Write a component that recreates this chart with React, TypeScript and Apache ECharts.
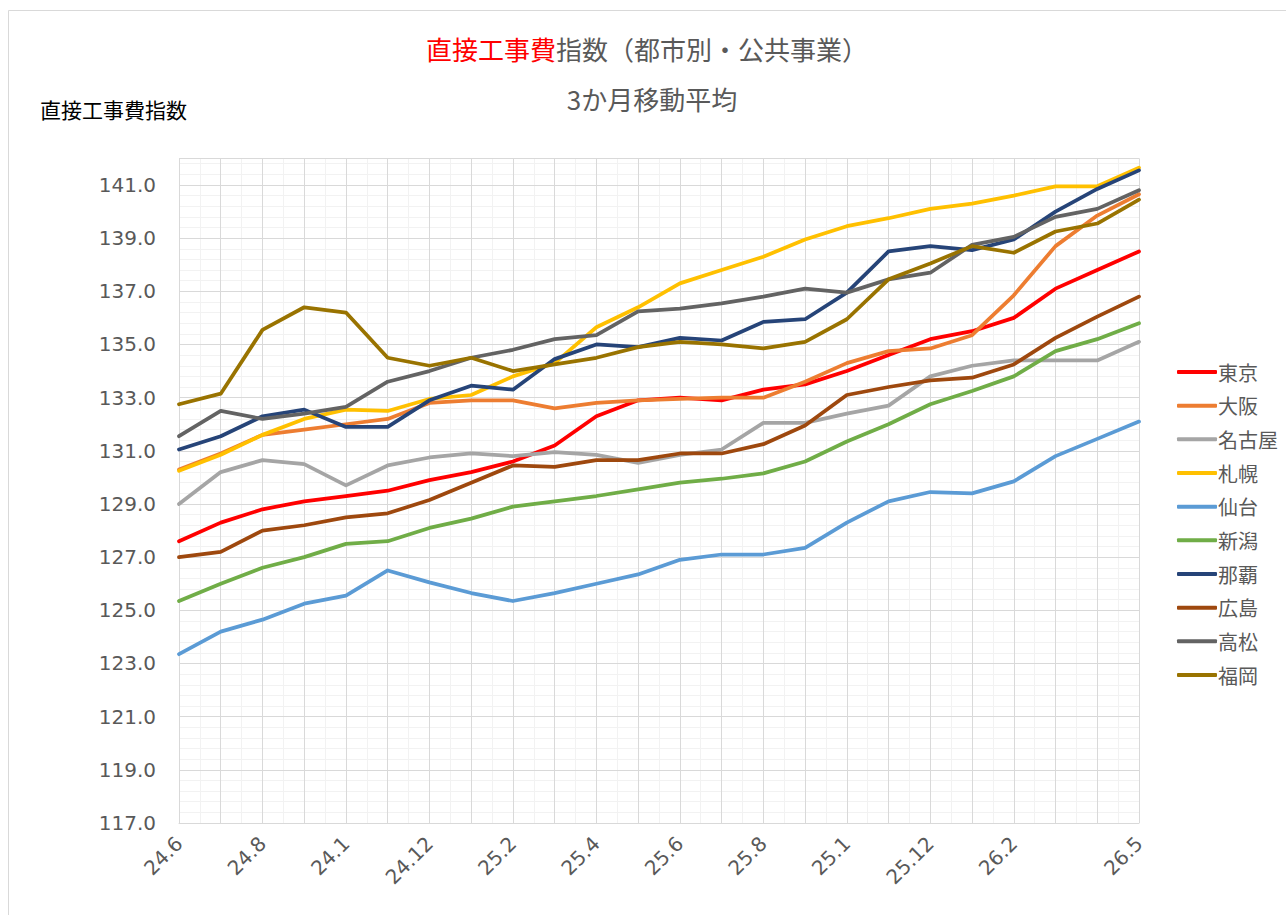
import React, { useEffect, useRef } from "react";
import * as echarts from "echarts";

const categories = [
  "24.6", "24.7", "24.8", "24.9", "24.1", "24.11", "24.12", "25.1",
  "25.2", "25.3", "25.4", "25.5", "25.6", "25.7", "25.8", "25.9",
  "25.1", "25.11", "25.12", "26.1", "26.2", "26.3", "26.4", "26.5",
];

const cityNames = ["東京", "大阪", "名古屋", "札幌", "仙台", "新潟", "那覇", "広島", "高松", "福岡"];
const cityColors = ["#FF0000", "#ED7D31", "#A5A5A5", "#FFC000", "#5B9BD5", "#70AD47", "#264478", "#9E480E", "#636363", "#997300"];

const tokyo = [127.6, 128.3, 128.8, 129.1, 129.3, 129.5, 129.9, 130.2, 130.6, 131.2, 132.3, 132.9, 133.0, 132.9, 133.3, 133.5, 134.0, 134.6, 135.2, 135.5, 136.0, 137.1, 137.8, 138.5];
const osaka = [130.3, 130.9, 131.6, 131.8, 132.0, 132.2, 132.8, 132.9, 132.9, 132.6, 132.8, 132.9, 132.95, 133.0, 133.0, 133.6, 134.3, 134.75, 134.85, 135.35, 136.85, 138.7, 139.85, 140.65];
const nagoya = [129.0, 130.2, 130.65, 130.5, 129.7, 130.45, 130.75, 130.9, 130.8, 130.95, 130.85, 130.55, 130.85, 131.05, 132.05, 132.05, 132.4, 132.7, 133.8, 134.2, 134.4, 134.4, 134.4, 135.1];
const sapporo = [130.25, 130.85, 131.6, 132.2, 132.55, 132.5, 132.95, 133.1, 133.8, 134.3, 135.65, 136.4, 137.3, 137.8, 138.3, 138.95, 139.45, 139.75, 140.1, 140.3, 140.6, 140.95, 140.95, 141.65];
const sendai = [123.35, 124.2, 124.65, 125.25, 125.55, 126.5, 126.05, 125.65, 125.35, 125.65, 126.0, 126.35, 126.9, 127.1, 127.1, 127.35, 128.3, 129.1, 129.45, 129.4, 129.85, 130.8, 131.45, 132.1];
const niigata = [125.35, 126.0, 126.6, 127.0, 127.5, 127.6, 128.1, 128.45, 128.9, 129.1, 129.3, 129.55, 129.8, 129.95, 130.15, 130.6, 131.35, 132.0, 132.75, 133.25, 133.8, 134.75, 135.2, 135.8];
const naha = [131.05, 131.55, 132.3, 132.55, 131.9, 131.9, 132.9, 133.45, 133.3, 134.45, 135.0, 134.9, 135.25, 135.15, 135.85, 135.95, 136.95, 138.5, 138.7, 138.55, 138.95, 140.0, 140.85, 141.55];
const hiroshima = [127.0, 127.2, 128.0, 128.2, 128.5, 128.65, 129.15, 129.8, 130.45, 130.4, 130.65, 130.65, 130.9, 130.9, 131.25, 131.95, 133.1, 133.4, 133.65, 133.75, 134.25, 135.25, 136.05, 136.8];
const takamatsu = [131.55, 132.5, 132.2, 132.4, 132.65, 133.6, 134.0, 134.5, 134.8, 135.2, 135.35, 136.25, 136.35, 136.55, 136.8, 137.1, 136.95, 137.45, 137.7, 138.75, 139.05, 139.8, 140.1, 140.8];
const fukuoka = [132.75, 133.15, 135.55, 136.4, 136.2, 134.5, 134.2, 134.5, 134.0, 134.25, 134.5, 134.9, 135.1, 135.0, 134.85, 135.1, 135.95, 137.45, 138.05, 138.7, 138.45, 139.25, 139.55, 140.45];

const cityValues = [tokyo, osaka, nagoya, sapporo, sendai, niigata, naha, hiroshima, takamatsu, fukuoka];

const titleMain = "直接工事費";
const titleRest = "指数（都市別・公共事業）";
const subTitle = "3か月移動平均";
const yAxisTitle = "直接工事費指数";

const Y_MIN = 117;
const Y_MAX = 142;

const CJK = "'Noto Sans CJK JP', 'Noto Sans', sans-serif";
const NUM = "'DejaVu Sans', Verdana, sans-serif";

export default function App() {
  const ref = useRef<HTMLDivElement>(null);

  useEffect(() => {
    if (!ref.current) return;
    const chart = echarts.init(ref.current, undefined, { renderer: "svg" });
    const lastIdx = categories.length - 1;

    const option: any = {
      animation: false,
      backgroundColor: "#FFFFFF",
      grid: { left: 179, right: 147, top: 158.4, bottom: 92, containLabel: false },
      graphic: [
        { type: "line", shape: { x1: 8.5, y1: 10.5, x2: 1286, y2: 10.5 }, style: { stroke: "#D9D9D9", lineWidth: 1 } },
        { type: "line", shape: { x1: 8.5, y1: 10.5, x2: 8.5, y2: 915 }, style: { stroke: "#D9D9D9", lineWidth: 1 } },
        {
          type: "text",
          x: 647,
          y: 48,
          style: {
            text: `{r|${titleMain}}{g|${titleRest}}`,
            align: "center",
            verticalAlign: "middle",
            rich: {
              r: { fill: "#FF0000", fontSize: 26, fontFamily: CJK },
              g: { fill: "#595959", fontSize: 26, fontFamily: CJK },
            },
          },
        },
        {
          type: "text",
          x: 652,
          y: 98,
          style: { text: subTitle, align: "center", verticalAlign: "middle", fill: "#595959", fontSize: 26, fontFamily: CJK },
        },
        {
          type: "text",
          x: 40,
          y: 109,
          style: { text: yAxisTitle, align: "left", verticalAlign: "middle", fill: "#000000", fontSize: 21, fontFamily: CJK },
        },
      ],
      legend: {
        orient: "vertical",
        left: 1172,
        top: 357,
        icon: "roundRect",
        itemWidth: 40,
        itemHeight: 4,
        itemGap: 13.67,
        data: cityNames,
        textStyle: { color: "#595959", fontSize: 20, lineHeight: 20, fontFamily: CJK, padding: [0, 0, 0, -4] },
      },
      xAxis: [
        {
          type: "category",
          data: categories,
          boundaryGap: false,
          z: 1,
          axisLine: { show: true, lineStyle: { color: "#D9D9D9", width: 1 } },
          axisTick: { show: false, interval: 0 },
          splitLine: { show: true, interval: 0, lineStyle: { color: "#D9D9D9", width: 1 } },
          axisLabel: {
            rotate: 45,
            margin: 17,
            color: "#595959",
            fontSize: 20,
            fontFamily: NUM,
            interval: (idx: number) => (idx % 2 === 0 && idx <= 20) || idx === lastIdx,
          },
        },
        {
          type: "value",
          min: 0,
          max: lastIdx,
          interval: 0.5,
          position: "top",
          z: 0,
          axisLine: { show: false },
          axisTick: { show: false },
          axisLabel: { show: false },
          splitLine: { show: true, lineStyle: { color: "#F2F2F2", width: 1 } },
        },
      ],
      yAxis: [
        {
          type: "value",
          min: Y_MIN,
          max: Y_MAX,
          interval: 2,
          z: 1,
          axisLine: { show: false },
          axisTick: { show: false },
          splitLine: { show: true, lineStyle: { color: "#D9D9D9", width: 1 } },
          axisLabel: {
            margin: 23,
            color: "#595959",
            fontSize: 20,
            fontFamily: NUM,
            showMaxLabel: false,
            formatter: (v: number) => v.toFixed(1),
          },
        },
        {
          type: "value",
          min: Y_MIN,
          max: Y_MAX,
          interval: 0.4,
          z: 0,
          axisLine: { show: false },
          axisTick: { show: false },
          axisLabel: { show: false },
          splitLine: { show: true, lineStyle: { color: "#F2F2F2", width: 1 } },
        },
      ],
      series: cityNames.map((name, i) => ({
        name,
        type: "line",
        data: cityValues[i],
        xAxisIndex: 0,
        yAxisIndex: 0,
        symbol: "none",
        showSymbol: false,
        color: cityColors[i],
        itemStyle: { color: cityColors[i] },
        lineStyle: { color: cityColors[i], width: 3.75, cap: "round", join: "round" },
        z: 3,
      })),
    };

    chart.setOption(option);
    return () => chart.dispose();
  }, []);

  return (
    <div
      ref={ref}
      style={{ position: "absolute", left: 0, top: 0, width: 1286, height: 915 }}
    />
  );
}
